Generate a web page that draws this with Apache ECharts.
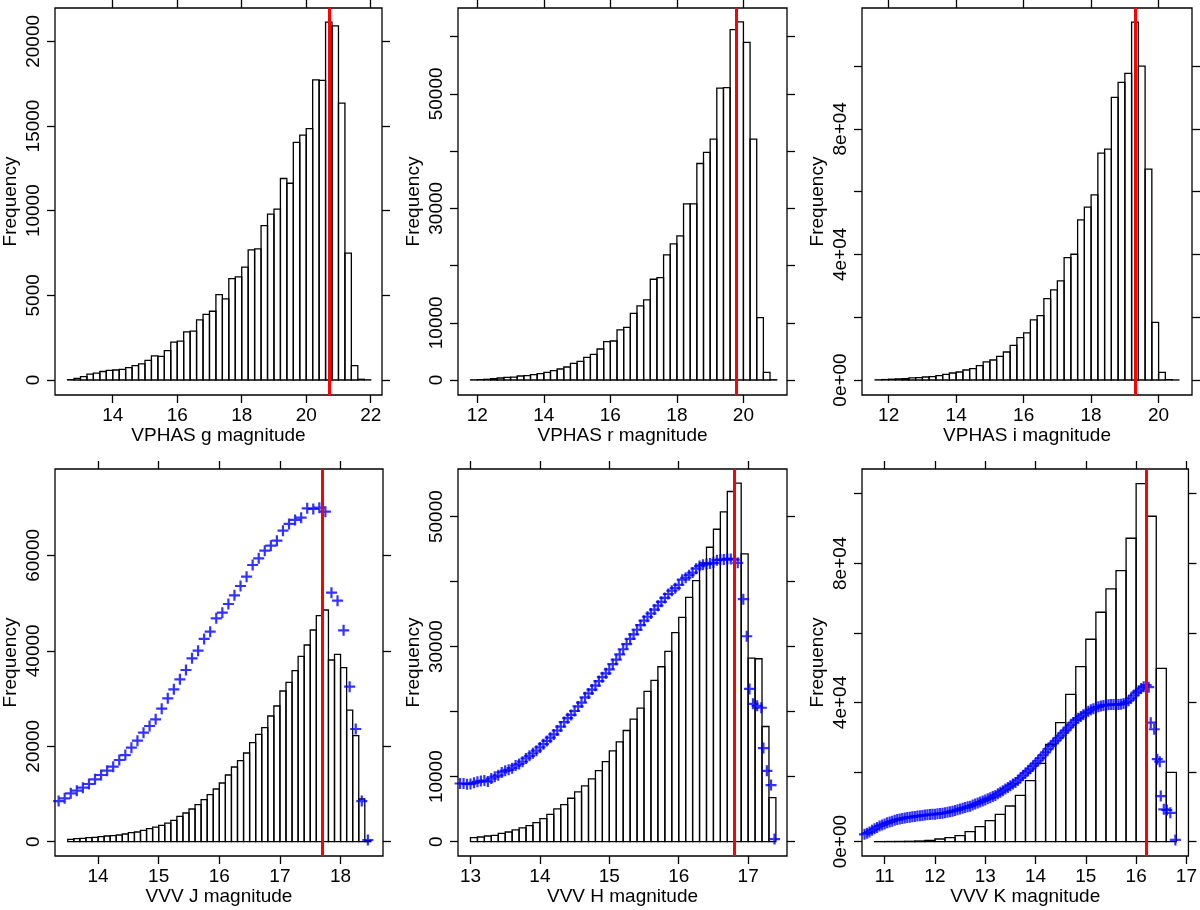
<!DOCTYPE html>
<html>
<head>
<meta charset="utf-8">
<script src="https://cdn.jsdelivr.net/npm/echarts@6/dist/echarts.min.js"></script>
<style>
  html, body { margin: 0; padding: 0; background: #fff; }
  #chart { width: 1200px; height: 910px; }
</style>
</head>
<body>
<div id="chart"></div>
<script>
// histogram counts (bin start, bin width, counts)
const gStart = 12.6, gWidth = 0.2
const gCounts = [20, 100, 200, 350, 400, 500, 570, 590, 630, 730, 850, 950, 1160, 1420, 1400, 1730, 2230, 2300, 2840, 2880,
  3550, 3880, 4060, 5040, 4790, 5990, 6090, 6660, 7680, 7740, 9120, 9790, 10090, 11900, 11620, 14030, 14460, 14850, 17730, 17690,
  21140, 20920, 16350, 7490, 850, 40, 10]
const rStart = 11.8, rWidth = 0.2
const rCounts = [30, 60, 120, 230, 350, 470, 520, 700, 760, 930, 1110, 1340, 1630, 1920, 2270, 2920, 3270, 3970, 4490, 5420,
  6710, 6820, 8750, 9210, 11660, 12940, 14000, 17610, 17900, 21870, 23790, 25190, 30790, 30790, 37840, 39770, 42100, 51020, 51080, 61230,
  62570, 59010, 42100, 10900, 1340, 50]
const iStart = 11.6, iWidth = 0.2
const iCounts = [50, 150, 250, 350, 450, 650, 750, 950, 1100, 1400, 1800, 2230, 2550, 3190, 3600, 4570, 5740, 6370, 7540, 8920,
  11050, 13490, 14980, 19120, 20500, 25920, 28680, 31550, 38990, 40050, 51000, 55030, 58960, 72240, 73520, 89990, 94770, 97630, 114000, 99970,
  67140, 18380, 2440, 100, 20]
const jStart = 13.5, jWidth = 0.1
const jCounts = [490, 630, 700, 840, 910, 1050, 1190, 1260, 1400, 1610, 1890, 2030, 2380, 2720, 3070, 3420, 3910, 4470, 5310, 6010,
  6850, 7750, 8800, 9850, 11040, 12300, 13970, 15650, 16980, 18580, 20750, 22490, 23890, 26340, 28430, 31580, 33390, 35840, 38840, 41220,
  44360, 47370, 48550, 38070, 39260, 36470, 27590, 22220, 8940, 200]
const hStart = 13.0, hWidth = 0.1
const hCounts = [620, 720, 870, 980, 1280, 1490, 1800, 2110, 2460, 2930, 3540, 4210, 5030, 5700, 6680, 7650, 8580, 9650, 10940, 12320,
  13970, 15350, 17100, 18850, 20540, 23110, 24800, 26910, 29270, 32150, 34510, 37590, 40160, 42880, 45290, 48060, 50730, 53870, 55150, 44270,
  28240, 28140, 17720, 6780]
const kStart = 10.8, kWidth = 0.2
const kCounts = [20, 40, 60, 100, 190, 380, 770, 1150, 1720, 2870, 4310, 6040, 7860, 10250, 13320, 17530, 22520, 27980, 34200, 42350,
  50300, 58160, 65920, 72620, 77890, 87190, 102900, 93510, 49820, 19930]

// red limit lines
const gLimit = 20.7, rLimit = 19.78, iLimit = 19.3, jLimit = 17.7, hLimit = 16.8, kLimit = 16.2

// blue "+" points
const jPtsX = [13.35, 13.45, 13.55, 13.65, 13.75, 13.85, 13.95, 14.05, 14.15, 14.25, 14.35, 14.45, 14.55, 14.65, 14.75, 14.85, 14.95,
  15.05, 15.15, 15.25, 15.35, 15.45, 15.55, 15.65, 15.75, 15.85, 15.95, 16.05, 16.15, 16.25, 16.35, 16.45, 16.55, 16.65, 16.75, 16.85,
  16.95, 17.05, 17.15, 17.25, 17.35, 17.45, 17.55, 17.65, 17.75, 17.85, 17.95, 18.05, 18.15, 18.25, 18.35, 18.45]
const jPtsY = [8520, 9080, 10130, 10690, 11320, 12090, 13060, 13970, 14880, 15720, 17120, 18160, 19700, 21170, 22840, 24240, 25640,
  27870, 30040, 31930, 34020, 35980, 38420, 40030, 42480, 44010, 46810, 47990, 49810, 51630, 53580, 55540, 57980, 59380, 60990, 62040,
  63080, 65180, 66580, 67420, 67900, 69860, 69720, 70000, 69160, 52190, 50510, 44290, 32490, 23610, 8520, 350]

const hPtsX = [12.85, 12.9, 12.95, 13.0, 13.05, 13.1, 13.15, 13.2, 13.25, 13.3, 13.35, 13.4, 13.45, 13.5, 13.55, 13.6, 13.65, 13.7,
  13.75, 13.8, 13.85, 13.9, 13.95, 14.0, 14.05, 14.1, 14.15, 14.2, 14.25, 14.3, 14.35, 14.4, 14.45, 14.5, 14.55, 14.6, 14.65, 14.7,
  14.75, 14.8, 14.85, 14.9, 14.95, 15.0, 15.05, 15.1, 15.15, 15.2, 15.25, 15.3, 15.35, 15.4, 15.45, 15.5, 15.55, 15.6, 15.65, 15.7,
  15.75, 15.8, 15.85, 15.9, 15.95, 16.0, 16.05, 16.1, 16.15, 16.2, 16.25, 16.3, 16.35, 16.4, 16.45, 16.5, 16.55, 16.6, 16.65, 16.7,
  16.75, 16.8, 16.85, 16.93, 16.98, 17.02, 17.07, 17.13, 17.19, 17.22, 17.27, 17.33, 17.38]
const hPtsY = [8950, 8950, 8850, 8880, 9050, 9200, 9350, 9400, 9250, 9700, 10000, 10200, 10650, 10900, 11050, 11300, 11700, 11950,
  12300, 12800, 13200, 13600, 14000, 14500, 15000, 15500, 16000, 16500, 17100, 17700, 18400, 19000, 19500, 20100, 20800, 21400, 22200, 22800,
  23400, 24000, 24700, 25300, 25900, 26500, 27300, 28000, 28800, 29600, 30400, 31200, 31900, 32600, 33300, 34000, 34600, 35100, 35700, 36300,
  36900, 37500, 38100, 38600, 39000, 39500, 40300, 40600, 41000, 41400, 42000, 42400, 42600, 42700, 42800, 42900, 43300, 43400, 43400, 43500,
  43500, 43400, 42900, 37300, 31600, 23500, 21200, 20900, 20600, 14400, 10900, 8700, 400]

const kPtsX = [10.6, 10.65, 10.7, 10.75, 10.8, 10.85, 10.9, 10.95, 11.0, 11.05, 11.1, 11.15, 11.2, 11.25, 11.3, 11.35, 11.4, 11.45,
  11.5, 11.55, 11.6, 11.65, 11.7, 11.75, 11.8, 11.85, 11.9, 11.95, 12.0, 12.05, 12.1, 12.15, 12.2, 12.25, 12.3, 12.35, 12.4, 12.45,
  12.5, 12.55, 12.6, 12.65, 12.7, 12.75, 12.8, 12.85, 12.9, 12.95, 13.0, 13.05, 13.1, 13.15, 13.2, 13.25, 13.3, 13.35, 13.4, 13.45,
  13.5, 13.55, 13.6, 13.65, 13.7, 13.75, 13.8, 13.85, 13.9, 13.95, 14.0, 14.05, 14.1, 14.15, 14.2, 14.25, 14.3, 14.35, 14.4, 14.45,
  14.5, 14.55, 14.6, 14.65, 14.7, 14.75, 14.8, 14.85, 14.9, 14.95, 15.0, 15.05, 15.1, 15.15, 15.2, 15.25, 15.3, 15.35, 15.4, 15.45,
  15.5, 15.55, 15.6, 15.65, 15.7, 15.75, 15.8, 15.85, 15.9, 15.95, 16.0, 16.05, 16.1, 16.15, 16.2,
  16.25, 16.29, 16.36, 16.42, 16.47, 16.49, 16.55, 16.61, 16.68, 16.78]
const kPtsY = [2100, 2450, 2800, 3250, 3700, 4100, 4500, 4800, 5100, 5400, 5650, 5900, 6150, 6350, 6500, 6650, 6800, 6950,
  7050, 7150, 7250, 7350, 7450, 7550, 7650, 7700, 7800, 7850, 7900, 8000, 8100, 8200, 8300, 8450, 8600, 8750, 8950, 9150,
  9400, 9600, 9800, 10000, 10200, 10500, 10800, 11100, 11400, 11700, 12000, 12300, 12600, 12950, 13300, 13750, 14200, 14650, 15100, 15600,
  16100, 16550, 17000, 17650, 18300, 19000, 19700, 20350, 21000, 21750, 22500, 23250, 24000, 24850, 25700, 26600, 27500, 28250, 29000, 29750,
  30500, 31250, 32000, 32750, 33500, 34250, 35000, 35500, 36000, 36500, 37000, 37450, 37900, 38200, 38500, 38750, 39000, 39150, 39300, 39350,
  39400, 39400, 39400, 39450, 39500, 39700, 40000, 40500, 41200, 42000, 42800, 43400, 44000, 44500, 45000,
  44400, 34200, 32300, 23700, 23000, 13100, 9300, 9100, 8300, 500]

// tick values
const gXTicks = [14, 16, 18, 20, 22]
const rXTicks = [12, 14, 16, 18, 20]
const iXTicks = [12, 14, 16, 18, 20]
const jXTicks = [14, 15, 16, 17, 18]
const hXTicks = [13, 14, 15, 16, 17]
const kXTicks = [11, 12, 13, 14, 15, 16, 17]
const gYTicks = [0, 5000, 10000, 15000, 20000]
const rYTicks = [0, 10000, 20000, 30000, 40000, 50000, 60000]
const iYTicks = [0, 20000, 40000, 60000, 80000, 100000]
const jYTicks = [0, 20000, 40000, 60000]
const hYTicks = [0, 10000, 20000, 30000, 40000, 50000]
const kYTicks = [0, 20000, 40000, 60000, 80000, 100000]
const gYLabels = [0, 5000, 10000, 15000, 20000]
const rYLabels = [0, 10000, 30000, 50000]
const iYLabels = [0, 40000, 80000]
const jYLabels = [0, 20000, 40000, 60000]
const hYLabels = [0, 10000, 30000, 50000]
const kYLabels = [0, 40000, 80000]

const FONT = '"Liberation Sans", Arial, Helvetica, sans-serif'
const sci = v => v === 0 ? '0e+00' : (v / 1e4) + 'e+04'
const plain = v => String(v)

const PLUS = 'path://M4,0H6V4H10V6H6V10H4V6H0V4H4Z'

const panels = [
  { box: [54, 8, 328, 387], x: [12.21, 22.35], y: [-887, 21970], xt: gXTicks, yt: gYTicks, yl: gYLabels, fmt: plain,
    name: 'VPHAS g magnitude', start: gStart, width: gWidth, counts: gCounts, limit: gLimit },
  { box: [458, 8, 329, 387], x: [11.42, 21.31], y: [-2620, 65010], xt: rXTicks, yt: rYTicks, yl: rYLabels, fmt: plain,
    name: 'VPHAS r magnitude', start: rStart, width: rWidth, counts: rCounts, limit: rLimit },
  { box: [862, 8, 330, 387], x: [11.21, 20.99], y: [-4780, 118480], xt: iXTicks, yt: iYTicks, yl: iYLabels, fmt: sci,
    name: 'VPHAS i magnitude', start: iStart, width: iWidth, counts: iCounts, limit: iLimit },
  { box: [54, 469, 329, 387], x: [13.29, 18.70], y: [-3000, 78100], xt: jXTicks, yt: jYTicks, yl: jYLabels, fmt: plain,
    name: 'VVV J magnitude', start: jStart, width: jWidth, counts: jCounts, limit: jLimit, px: jPtsX, py: jPtsY },
  { box: [458, 469, 329, 387], x: [12.82, 17.56], y: [-2205, 57330], xt: hXTicks, yt: hYTicks, yl: hYLabels, fmt: plain,
    name: 'VVV H magnitude', start: hStart, width: hWidth, counts: hCounts, limit: hLimit, px: hPtsX, py: hPtsY },
  { box: [862, 469, 330, 387], x: [10.55, 17.04], y: [-4120, 107090], xt: kXTicks, yt: kYTicks, yl: kYLabels, fmt: sci,
    name: 'VVV K magnitude', start: kStart, width: kWidth, counts: kCounts, limit: kLimit, px: kPtsX, py: kPtsY }
]

function renderBar(params, api) {
  const p0 = api.coord([api.value(0), api.value(2)])
  const p1 = api.coord([api.value(1), 0])
  return {
    type: 'rect',
    shape: { x: p0[0], y: p0[1], width: p1[0] - p0[0], height: p1[1] - p0[1] },
    style: { fill: 'none', stroke: '#000', lineWidth: 1.3 }
  }
}

const grid = [], xAxis = [], yAxis = [], series = []
const tick = (vals) => ({ show: true, inside: false, length: 8, customValues: vals, lineStyle: { color: '#000', width: 1.3 } })
const noLine = { show: false, onZero: false }

panels.forEach((p, i) => {
  grid.push({ left: p.box[0], top: p.box[1], width: p.box[2], height: p.box[3], show: true,
    borderColor: '#000', borderWidth: 1.3, backgroundColor: 'transparent' })
  xAxis.push({
    type: 'value', gridIndex: i, position: 'bottom', min: p.x[0], max: p.x[1],
    axisLine: noLine, splitLine: { show: false }, axisTick: tick(p.xt),
    axisLabel: { customValues: p.xt, formatter: plain, color: '#000', fontSize: 19, fontFamily: FONT, margin: 11 },
    name: p.name, nameLocation: 'middle', nameGap: 31,
    nameTextStyle: { color: '#000', fontSize: 19, fontFamily: FONT }
  })
  xAxis.push({
    type: 'value', gridIndex: i, position: 'top', min: p.x[0], max: p.x[1],
    axisLine: noLine, splitLine: { show: false }, axisTick: tick(p.xt), axisLabel: { show: false }
  })
  yAxis.push({
    type: 'value', gridIndex: i, position: 'left', min: p.y[0], max: p.y[1],
    axisLine: noLine, splitLine: { show: false }, axisTick: tick(p.yt),
    axisLabel: { customValues: p.yl, formatter: p.fmt, rotate: 90, color: '#000', fontSize: 19, fontFamily: FONT, margin: 12 },
    name: 'Frequency', nameLocation: 'middle', nameGap: 35, nameRotate: 90,
    nameTextStyle: { color: '#000', fontSize: 19, fontFamily: FONT }
  })
  yAxis.push({
    type: 'value', gridIndex: i, position: 'right', min: p.y[0], max: p.y[1],
    axisLine: noLine, splitLine: { show: false }, axisTick: tick(p.yt), axisLabel: { show: false }
  })

  const bars = p.counts.map((c, k) => [p.start + k * p.width, p.start + (k + 1) * p.width, c])
  series.push({
    type: 'custom', xAxisIndex: 2 * i, yAxisIndex: 2 * i, renderItem: renderBar, data: bars,
    encode: { x: [0, 1], y: 2 }, silent: true, z: 2, clip: true,
    markLine: {
      silent: true, symbol: 'none', label: { show: false }, z: 4,
      lineStyle: { color: '#ff0000', width: 3, type: 'solid' },
      data: [{ xAxis: p.limit }]
    }
  })
  if (p.px) {
    series.push({
      type: 'scatter', xAxisIndex: 2 * i, yAxisIndex: 2 * i,
      data: p.px.map((x, k) => [x, p.py[k]]),
      symbol: PLUS, symbolSize: 11, itemStyle: { color: '#0000ff' }, silent: true, z: 3, clip: true
    })
  }
})

const chart = echarts.init(document.getElementById('chart'), null, { renderer: 'canvas' })
chart.setOption({ animation: false, backgroundColor: '#fff', grid, xAxis, yAxis, series })
window.addEventListener('resize', () => chart.resize())
</script>
</body>
</html>
